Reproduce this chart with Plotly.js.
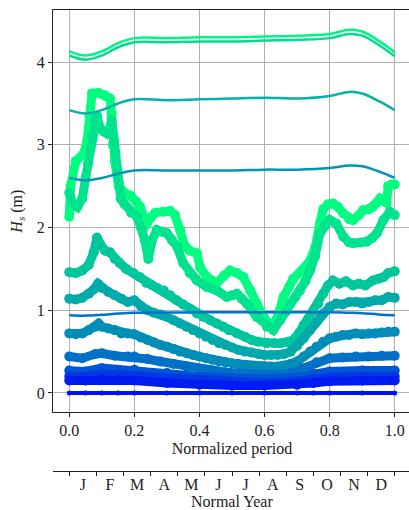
<!DOCTYPE html>
<html>
<head>
<meta charset="utf-8">
<script src="https://cdn.plot.ly/plotly-3.0.1.min.js"></script>
<style>
html,body{margin:0;padding:0;background:#fff;overflow:hidden;}
#chart{width:412px;height:510px;}
</style>
</head>
<body>
<div id="chart"></div>
<script>
// ---- Data ----
// Smooth envelope lines
const lineX = [0, 0.05, 0.1, 0.15, 0.2, 0.3, 0.4, 0.5, 0.6, 0.7, 0.8, 0.86, 0.9, 0.95, 1.0];
const lineTopA = [4.13, 4.08, 4.13, 4.23, 4.29, 4.29, 4.30, 4.30, 4.31, 4.32, 4.34, 4.39, 4.37, 4.26, 4.12];
const lineTopB = [4.08, 4.03, 4.08, 4.18, 4.24, 4.24, 4.25, 4.25, 4.26, 4.27, 4.29, 4.34, 4.32, 4.21, 4.07];
const line35 = [3.42, 3.38, 3.42, 3.50, 3.55, 3.54, 3.55, 3.56, 3.57, 3.56, 3.59, 3.64, 3.62, 3.53, 3.42];
const line26 = [2.60, 2.57, 2.60, 2.65, 2.69, 2.69, 2.69, 2.69, 2.70, 2.70, 2.72, 2.75, 2.74, 2.68, 2.60];
const line09 = [0.94, 0.935, 0.945, 0.96, 0.97, 0.972, 0.975, 0.975, 0.975, 0.975, 0.975, 0.97, 0.965, 0.95, 0.94];

// Dotted series (highest to lowest)
const g1X = [0, 0.004, 0.02, 0.045, 0.055, 0.062, 0.07, 0.09, 0.11, 0.125, 0.13, 0.134, 0.14, 0.152, 0.17, 0.19, 0.205, 0.218, 0.232, 0.239, 0.25, 0.265, 0.289, 0.31, 0.325, 0.341, 0.355, 0.37, 0.392, 0.402, 0.423, 0.453, 0.475, 0.494, 0.515, 0.535, 0.556, 0.576, 0.597, 0.617, 0.63, 0.645, 0.658, 0.675, 0.688, 0.709, 0.725, 0.74, 0.755, 0.765, 0.77, 0.78, 0.795, 0.81, 0.825, 0.842, 0.86, 0.872, 0.89, 0.903, 0.92, 0.933, 0.945, 0.955, 0.968, 0.975, 0.98, 0.99, 1.0];
const g1Y = [2.13, 2.5, 2.8, 2.9, 3.05, 3.35, 3.62, 3.63, 3.6, 3.56, 3.38, 3.0, 2.8, 2.5, 2.42, 2.38, 2.32, 2.25, 2.1, 2.05, 2.12, 2.18, 2.19, 2.2, 2.15, 1.97, 1.78, 1.72, 1.69, 1.52, 1.4, 1.33, 1.42, 1.48, 1.45, 1.4, 1.24, 1.08, 0.92, 0.82, 0.84, 0.98, 1.16, 1.28, 1.38, 1.46, 1.52, 1.6, 1.75, 1.89, 2.05, 2.22, 2.28, 2.29, 2.25, 2.17, 2.1, 2.09, 2.15, 2.21, 2.22, 2.25, 2.3, 2.35, 2.32, 2.3, 2.5, 2.52, 2.52];

const g2X = [0, 0.01, 0.025, 0.04, 0.05, 0.058, 0.068, 0.078, 0.085, 0.095, 0.105, 0.115, 0.125, 0.13, 0.138, 0.142, 0.148, 0.152, 0.158, 0.17, 0.19, 0.208, 0.22, 0.232, 0.243, 0.255, 0.269, 0.285, 0.3, 0.315, 0.331, 0.35, 0.37, 0.392, 0.423, 0.453, 0.484, 0.5, 0.515, 0.53, 0.546, 0.576, 0.607, 0.627, 0.648, 0.665, 0.679, 0.695, 0.709, 0.725, 0.74, 0.755, 0.77, 0.785, 0.8, 0.82, 0.842, 0.86, 0.872, 0.895, 0.914, 0.93, 0.945, 0.965, 0.985, 1.0];
const g2Y = [2.42, 2.3, 2.25, 2.35, 2.6, 2.78, 3.1, 3.3, 3.35, 3.2, 3.16, 3.14, 3.2, 3.3, 3.05, 2.9, 2.7, 2.55, 2.35, 2.28, 2.18, 2.13, 2.0, 1.85, 1.62, 1.85, 1.97, 1.95, 1.93, 1.85, 1.77, 1.57, 1.45, 1.36, 1.28, 1.24, 1.16, 1.18, 1.2, 1.14, 1.08, 0.92, 0.8, 0.76, 0.88, 0.98, 1.08, 1.16, 1.24, 1.35, 1.48, 1.65, 1.93, 2.02, 2.09, 2.05, 1.89, 1.82, 1.81, 1.82, 1.83, 1.87, 1.93, 2.09, 2.19, 2.15];

const t3X = [0, 0.02, 0.04, 0.06, 0.075, 0.085, 0.095, 0.11, 0.125, 0.14, 0.155, 0.175, 0.197, 0.217, 0.237, 0.255, 0.27, 0.29, 0.31, 0.33, 0.35, 0.37, 0.392, 0.412, 0.433, 0.453, 0.473, 0.49, 0.515, 0.54, 0.56, 0.58, 0.607, 0.63, 0.65, 0.67, 0.688, 0.705, 0.72, 0.735, 0.75, 0.765, 0.78, 0.795, 0.81, 0.83, 0.85, 0.872, 0.89, 0.91, 0.933, 0.95, 0.965, 0.98, 1.0];
const t3Y = [1.46, 1.45, 1.48, 1.55, 1.7, 1.88, 1.8, 1.72, 1.7, 1.62, 1.57, 1.5, 1.45, 1.4, 1.33, 1.3, 1.27, 1.24, 1.18, 1.12, 1.07, 1.02, 0.96, 0.92, 0.88, 0.84, 0.8, 0.76, 0.72, 0.68, 0.64, 0.62, 0.6, 0.6, 0.6, 0.61, 0.64, 0.72, 0.82, 0.9, 0.98, 1.08, 1.2, 1.3, 1.36, 1.32, 1.35, 1.3, 1.32, 1.3, 1.36, 1.38, 1.4, 1.45, 1.47];

const t4X = [0, 0.02, 0.04, 0.06, 0.075, 0.088, 0.1, 0.12, 0.14, 0.16, 0.18, 0.2, 0.22, 0.24, 0.26, 0.28, 0.3, 0.32, 0.34, 0.36, 0.38, 0.4, 0.42, 0.44, 0.46, 0.48, 0.5, 0.52, 0.54, 0.56, 0.58, 0.6, 0.62, 0.64, 0.66, 0.68, 0.7, 0.72, 0.74, 0.76, 0.78, 0.8, 0.82, 0.84, 0.86, 0.88, 0.9, 0.92, 0.94, 0.96, 0.98, 1.0];
const t4Y = [1.14, 1.13, 1.15, 1.2, 1.25, 1.32, 1.27, 1.22, 1.18, 1.14, 1.1, 1.12, 1.05, 1.0, 0.97, 0.95, 0.92, 0.88, 0.84, 0.8, 0.76, 0.72, 0.68, 0.64, 0.6, 0.58, 0.55, 0.52, 0.5, 0.49, 0.47, 0.46, 0.46, 0.46, 0.47, 0.5, 0.57, 0.66, 0.76, 0.86, 0.96, 1.04, 1.08, 1.07, 1.1, 1.1, 1.08, 1.1, 1.12, 1.12, 1.16, 1.15];

const t5X = [0, 0.02, 0.04, 0.06, 0.08, 0.09, 0.1, 0.12, 0.14, 0.16, 0.18, 0.2, 0.22, 0.24, 0.26, 0.28, 0.3, 0.32, 0.34, 0.36, 0.38, 0.4, 0.42, 0.44, 0.46, 0.48, 0.5, 0.52, 0.54, 0.56, 0.58, 0.6, 0.62, 0.64, 0.66, 0.68, 0.7, 0.72, 0.74, 0.76, 0.78, 0.8, 0.82, 0.84, 0.86, 0.88, 0.9, 0.92, 0.94, 0.96, 0.98, 1.0];
const t5Y = [0.72, 0.71, 0.72, 0.76, 0.8, 0.84, 0.8, 0.78, 0.76, 0.72, 0.72, 0.71, 0.67, 0.64, 0.61, 0.58, 0.56, 0.53, 0.5, 0.48, 0.46, 0.44, 0.42, 0.4, 0.38, 0.37, 0.36, 0.35, 0.34, 0.33, 0.32, 0.32, 0.32, 0.32, 0.33, 0.35, 0.38, 0.44, 0.5, 0.56, 0.62, 0.66, 0.68, 0.7, 0.7, 0.72, 0.71, 0.72, 0.72, 0.73, 0.74, 0.74];

const t6X = [0, 0.04, 0.08, 0.1, 0.14, 0.18, 0.2, 0.24, 0.28, 0.32, 0.36, 0.4, 0.44, 0.48, 0.52, 0.56, 0.6, 0.64, 0.68, 0.72, 0.76, 0.8, 0.84, 0.88, 0.92, 0.96, 1.0];
const t6Y = [0.44, 0.42, 0.47, 0.48, 0.45, 0.44, 0.44, 0.41, 0.38, 0.35, 0.32, 0.29, 0.27, 0.25, 0.24, 0.23, 0.22, 0.22, 0.24, 0.3, 0.37, 0.42, 0.43, 0.44, 0.44, 0.45, 0.45];

const lowX = [0, 0.05, 0.1, 0.15, 0.2, 0.3, 0.4, 0.5, 0.6, 0.7, 0.75, 0.8, 0.9, 1.0];
const t7Y = [0.27, 0.26, 0.3, 0.28, 0.28, 0.24, 0.2, 0.18, 0.17, 0.19, 0.23, 0.26, 0.27, 0.27];
const t8Y = [0.2, 0.2, 0.23, 0.22, 0.21, 0.18, 0.15, 0.13, 0.12, 0.14, 0.17, 0.19, 0.2, 0.2];
const t9Y = [0.15, 0.15, 0.17, 0.16, 0.15, 0.12, 0.1, 0.09, 0.09, 0.1, 0.12, 0.14, 0.15, 0.15];
const zeroY = [0, 0, 0, 0, 0, 0, 0, 0, 0, 0, 0, 0, 0, 0];

// Axis ticks
const periodTicks = [0, 0.2, 0.4, 0.6, 0.8, 1.0];
const periodLabels = ['0.0', '0.2', '0.4', '0.6', '0.8', '1.0'];
const hsTicks = [0, 1, 2, 3, 4];
const monthLabels = ['J', 'F', 'M', 'A', 'M', 'J', 'J', 'A', 'S', 'O', 'N', 'D'];

// ---- Build ----
const monthEdges = [];
for (let i = 0; i <= 12; i++) monthEdges.push(i / 12);
const monthMids = monthLabels.map((m, i) => (i + 0.5) / 12);

const FONT = 'Liberation Serif, DejaVu Serif, serif';
const FS = 16;

function dots(x, y, color, size) {
  return {
    x: x, y: y, type: 'scatter', mode: 'lines+markers',
    line: {color: color, width: size - 1, shape: 'linear'},
    marker: {color: color, size: size},
    hoverinfo: 'skip', showlegend: false
  };
}
function smooth(y, color, w) {
  return {
    x: lineX, y: y, type: 'scatter', mode: 'lines',
    line: {color: color, width: w, shape: 'spline', smoothing: 1.0},
    hoverinfo: 'skip', showlegend: false
  };
}

const traces = [
  dots(g1X, g1Y, '#00ff80', 10),
  dots(g2X, g2Y, '#00e38e', 10),
  dots(t3X, t3Y, '#00c69c', 10),
  dots(t4X, t4Y, '#00aaaa', 10),
  dots(t5X, t5Y, '#008eb8', 10),
  dots(t6X, t6Y, '#0071c7', 10),
  dots(lowX, t7Y, '#0055d5', 10),
  dots(lowX, t8Y, '#0039e3', 10),
  dots(lowX, t9Y, '#001cf1', 10),
  dots(lowX, zeroY, '#0010f8', 5),
  smooth(lineTopA, '#00f585', 2.5),
  smooth(lineTopB, '#00dc90', 2.5),
  smooth(line35, '#00b4a8', 2.5),
  smooth(line26, '#0096b4', 2.5),
  smooth(line09, '#0074c8', 2.5),
  {x: [0.5], y: [0.5], xaxis: 'x2', yaxis: 'y2', type: 'scatter', mode: 'markers',
   marker: {opacity: 0}, hoverinfo: 'skip', showlegend: false},
  {x: [0.5], y: [0.5], xaxis: 'x3', yaxis: 'y2', type: 'scatter', mode: 'markers',
   marker: {opacity: 0}, hoverinfo: 'skip', showlegend: false}
];

const axisCommon = {
  showline: true, linecolor: '#222', linewidth: 1,
  ticks: 'outside', ticklen: 4, tickwidth: 1, tickcolor: '#222',
  zeroline: false, tickfont: {family: FONT, size: FS, color: '#222'}
};

const layout = {
  width: 412, height: 510,
  margin: {l: 53, r: 1, t: 10, b: 39},
  paper_bgcolor: '#fff', plot_bgcolor: '#fff',
  font: {family: FONT, size: FS, color: '#222'},
  showlegend: false,
  xaxis: Object.assign({}, axisCommon, {
    anchor: 'y', domain: [0, 1], range: [-0.05, 1.05], mirror: true,
    tickmode: 'array', tickvals: periodTicks, ticktext: periodLabels,
    showgrid: true, gridcolor: '#b0b0b0', gridwidth: 1,
    title: {text: 'Normalized period', font: {family: FONT, size: FS, color: '#222'}, standoff: 4}
  }),
  yaxis: Object.assign({}, axisCommon, {
    anchor: 'x', domain: [0.1275, 1], range: [-0.233, 4.63], mirror: true,
    tickmode: 'array', tickvals: hsTicks, ticktext: hsTicks.map(String),
    showgrid: true, gridcolor: '#b0b0b0', gridwidth: 1,
    title: {text: '<i>H<sub>s</sub></i> (m)', font: {family: FONT, size: FS, color: '#222'}, standoff: 10}
  }),
  yaxis2: {domain: [0, 0.02], range: [0, 1], visible: false, anchor: 'x2'},
  xaxis2: Object.assign({}, axisCommon, {
    anchor: 'y2', domain: [0, 1], range: [-0.05, 1.05],
    tickmode: 'array', tickvals: monthEdges, showticklabels: false,
    showgrid: false
  }),
  xaxis3: {
    anchor: 'y2', overlaying: 'x2', side: 'bottom', domain: [0, 1], range: [-0.05, 1.05],
    tickmode: 'array', tickvals: monthMids, ticktext: monthLabels,
    ticks: '', showline: false, showgrid: false, zeroline: false,
    ticklabelstandoff: 2,
    tickfont: {family: FONT, size: FS, color: '#222'}
  },
  annotations: [{
    text: 'Normal Year', xref: 'paper', yref: 'paper', x: 0.5, y: -0.066,
    xanchor: 'center', yanchor: 'middle', showarrow: false,
    font: {family: FONT, size: FS, color: '#222'}
  }]
};

Plotly.newPlot('chart', traces, layout, {staticPlot: true, displayModeBar: false});
</script>
</body>
</html>
